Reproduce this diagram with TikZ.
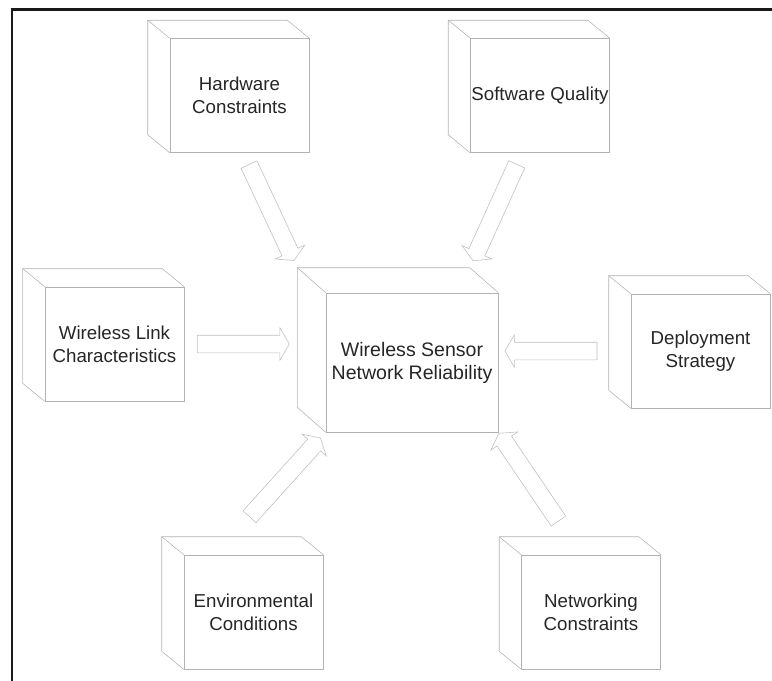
\documentclass[tikz,border=0pt]{standalone}
\usepackage{fontspec}
\setmainfont{Liberation Sans}
\usetikzlibrary{shapes.arrows, positioning, calc}

\begin{document}
\begin{tikzpicture}[ factor/.style={draw=black!30, fill=white, inner sep=0pt,
      minimum width=3.475cm, minimum height=2.85cm, align=center,
      text=black!85, font=\fontsize{13.3pt}{16.3pt}\selectfont},
      factorback/.style={inner sep=0pt, minimum width=3.475cm, minimum
      height=2.85cm}, core/.style={factor, minimum width=4.3cm, minimum
      height=3.475cm, font=\fontsize{13.9pt}{16.3pt}\selectfont},
      coreback/.style={factorback, minimum width=4.3cm, minimum
      height=3.475cm}, edge/.style={draw=black!30},
      influence/.style={single arrow, draw=black!25, fill=white, inner
      xsep=0pt, inner ysep=0.2125cm, minimum width=0.8cm, minimum
      height=2.65cm, single arrow head extend=0.1875cm, single arrow tip
      angle=120, sloped, allow upside down},
      frame/.style={line width=1.8pt, black!90} ]
    \useasboundingbox (0,0) rectangle (19.3,-17.025);

    % Frame
    \draw[frame] (0.3,-17.025) |- (19.3,-0.2375);

    % Factors
    \node[factor] (hw) at (5.9875,-2.3875) {Hardware\\Constraints};
    \node[factor] (sw) at (13.5,-2.3875) {Software Quality};
    \node[factor] (wl) at (2.8625,-8.6) {Wireless Link\\Characteristics};
    \node[factor] (dp) at (17.5125,-8.775) {Deployment\\Strategy};
    \node[factor] (en) at (6.3375,-15.3) {Environmental\\Conditions};
    \node[factor] (nt) at (14.775,-15.3) {Networking\\Constraints};

    % Central box
    \node[core] (wsn) at (10.3,-9.0625) {Wireless Sensor\\Network Reliability};

    % Back faces
    \foreach \n in {hw,sw,wl,dp,en,nt} {
      \node[factorback] (\n-b) at ($(\n)+(-0.55,0.45)$) {};
    }
    \node[coreback] (wsn-b) at ($(wsn)+(-0.71,0.625)$) {};

    % Cube edges
    \foreach \n in {hw,sw,wl,dp,en,nt,wsn} {
      \draw[edge] (\n.south west) -- (\n-b.south west) |- (\n-b.north east)
      -- (\n.north east); \draw[edge] (\n-b.north west) -- (\n.north west);
    }

    % Block arrows
    \path ([xshift=0.1cm]hw.south) -- node[influence] (hw-a) {}
    (wsn-b.north west); \path ([xshift=-0.45cm]sw.south) -- node[influence]
    (sw-a) {} (wsn-b.north east);
    \path (wl.east) -- node[influence, minimum height=2.3cm] (wl-a) {}
    (wsn-b.west |- wl.east); \path (dp-b.west |- dp.west) --
    node[influence, minimum height=2.3cm] (dp-a) {} (wsn.east |- dp.west);
    \path (en-b.north) -- node[influence, pos=0.55] (en-a) {}
    (wsn.south west); \path (nt-b.north) -- node[influence, pos=0.55] (nt-a)
    {} (wsn.south east);

  \end{tikzpicture}
\end{document}
